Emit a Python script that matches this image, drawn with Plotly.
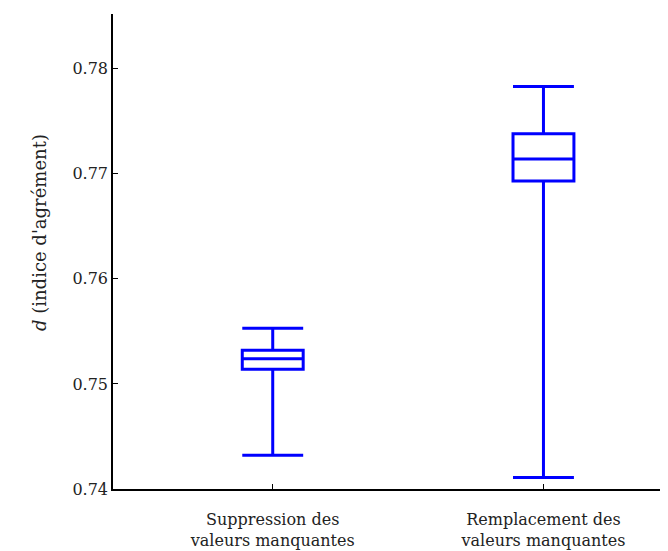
import plotly.graph_objects as go

categories = ["Suppression des<br>valeurs manquantes", "Remplacement des<br>valeurs manquantes"]
lower = [0.7432, 0.7411]
q1 = [0.7514, 0.7693]
median = [0.7524, 0.7714]
q3 = [0.7532, 0.7738]
upper = [0.7553, 0.7783]

fig = go.Figure()
fig.add_trace(go.Box(
    x=categories,
    q1=q1, median=median, q3=q3,
    lowerfence=lower, upperfence=upper,
    line=dict(color="#0000ff", width=3),
    fillcolor="rgba(0,0,0,0)",
    whiskerwidth=1,
    width=0.225,
    boxpoints=False,
    showlegend=False,
))

font = "DejaVu Serif"
fig.update_layout(
    width=668, height=551,
    margin=dict(l=105, r=8, t=6, b=70),
    plot_bgcolor="white", paper_bgcolor="white",
    font=dict(family=font, size=16, color="#222"),
    xaxis=dict(
        range=[-0.59, 1.46],
        showline=True, linecolor="black", linewidth=1.5,
        ticks="inside", ticklen=5, tickcolor="black",
        showgrid=False, zeroline=False,
        tickfont=dict(family=font, size=16),
        ticklabelstandoff=15,
        automargin=False,
    ),
    yaxis=dict(
        range=[0.74, 0.7852],
        tickvals=[0.74, 0.75, 0.76, 0.77, 0.78],
        tickformat=".2f",
        showline=True, linecolor="black", linewidth=1.5,
        ticks="inside", ticklen=5, tickcolor="black",
        showgrid=False, zeroline=False,
        tickfont=dict(family=font, size=16),
        automargin=False,
    ),
)

# y title placed by hand so it sits a little above the axis middle
fig.add_annotation(
    text="<i>d</i> (indice d'agrément)",
    xref="paper", yref="paper", x=0, y=0.54,
    xshift=-86, textangle=-90, showarrow=False,
    font=dict(family=font, size=18),
)

fig.write_html("out.html")
